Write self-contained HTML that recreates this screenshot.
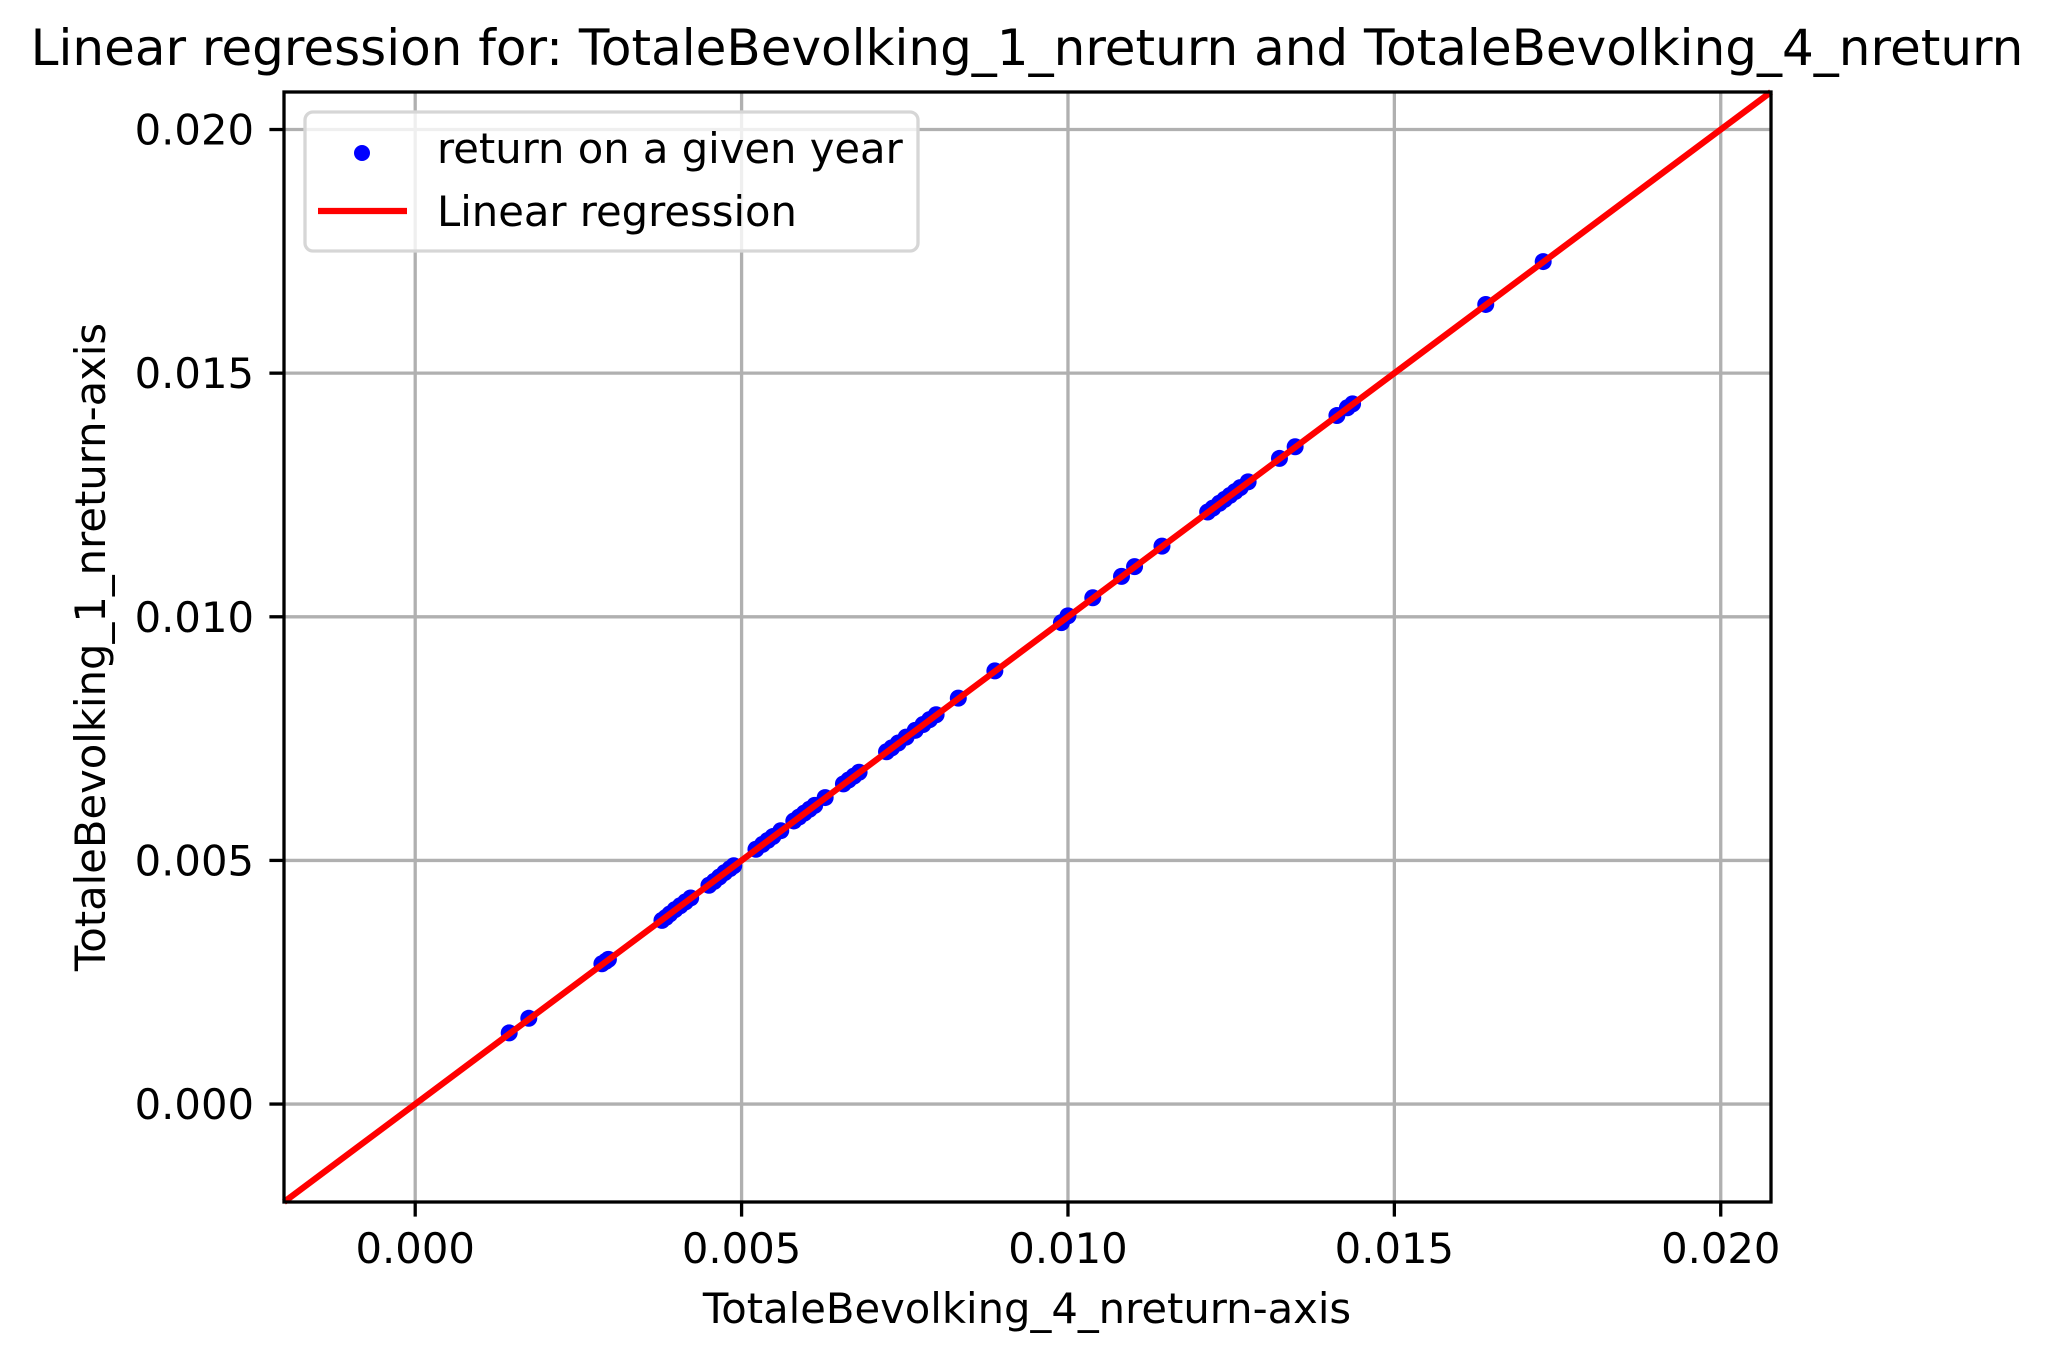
<!DOCTYPE html>
<html><head><meta charset="utf-8"><style>
html,body{margin:0;padding:0;background:#fff;}
svg{display:block;font-family:"DejaVu Sans","Liberation Sans",sans-serif;}
</style></head><body>
<svg id="chart" width="2054" height="1362" viewBox="0 0 2054 1362" xmlns="http://www.w3.org/2000/svg">
<rect width="2054" height="1362" fill="#fff"/>
<text x="1027" y="65" font-size="50" text-anchor="middle" fill="#000">Linear regression for: TotaleBevolking_1_nreturn and TotaleBevolking_4_nreturn</text>
<g id="grid"></g>
<g id="marks"></g>
<g id="axes"></g>
<text x="1027" y="1323" font-size="41.7" text-anchor="middle" fill="#000">TotaleBevolking_4_nreturn-axis</text>
<text transform="translate(105,647) rotate(-90)" font-size="41.7" text-anchor="middle" fill="#000">TotaleBevolking_1_nreturn-axis</text>
<g>
<rect x="305" y="112" width="613" height="139" rx="8" fill="#fff" fill-opacity="0.8" stroke="#d6d6d6" stroke-width="3.3"/>
<circle cx="362" cy="153" r="8" fill="#0000ff"/>
<text x="437" y="163" font-size="41.7" fill="#000">return on a given year</text>
<line x1="318" y1="211" x2="407" y2="211" stroke="#ff0000" stroke-width="6.25"/>
<text x="437" y="226" font-size="41.7" fill="#000">Linear regression</text>
</g>
</svg>
<script>
const xValues = [0.00144,0.00174,0.00286,0.00292,0.00296,0.00378,0.00384,0.00390,0.00398,0.00406,0.00414,0.00422,0.00450,0.00458,0.00466,0.00474,0.00482,0.00488,0.00522,0.00532,0.00540,0.00548,0.00560,0.00580,0.00588,0.00596,0.00604,0.00612,0.00628,0.00656,0.00664,0.00672,0.00680,0.00722,0.00730,0.00740,0.00752,0.00766,0.00778,0.00788,0.00798,0.00832,0.00888,0.00990,0.01000,0.01038,0.01082,0.01102,0.01144,0.01214,0.01222,0.01232,0.01240,0.01248,0.01256,0.01264,0.01276,0.01324,0.01348,0.01412,0.01428,0.01436,0.01640,0.01728];
const yValues = [0.00146,0.00176,0.00288,0.00293,0.00297,0.00377,0.00383,0.00390,0.00399,0.00407,0.00415,0.00423,0.00449,0.00457,0.00466,0.00475,0.00483,0.00489,0.00523,0.00533,0.00541,0.00549,0.00561,0.00581,0.00589,0.00597,0.00605,0.00613,0.00629,0.00657,0.00665,0.00673,0.00681,0.00723,0.00731,0.00741,0.00753,0.00767,0.00779,0.00789,0.00799,0.00833,0.00889,0.00988,0.01002,0.01039,0.01083,0.01103,0.01145,0.01215,0.01223,0.01233,0.01241,0.01249,0.01257,0.01265,0.01277,0.01325,0.01349,0.01413,0.01429,0.01437,0.01641,0.01729];
const xTicks = [0.000,0.005,0.010,0.015,0.020];
const yTicks = [0.000,0.005,0.010,0.015,0.020];
const tickLabels = ["0.000","0.005","0.010","0.015","0.020"];
const regSlope = [1.0];
const regIntercept = [0.0];
const xDomain = [-0.00201,0.02077];
const yDomain = [-0.00201,0.02077];

const L=284,R=1771,T=92,B=1202;
const NS="http://www.w3.org/2000/svg";
function sx(v){return L+(v-xDomain[0])/(xDomain[1]-xDomain[0])*(R-L);}
function sy(v){return B-(v-yDomain[0])/(yDomain[1]-yDomain[0])*(B-T);}
function mk(tag,attrs,parent){const e=document.createElementNS(NS,tag);for(const k in attrs)e.setAttribute(k,attrs[k]);parent.appendChild(e);return e;}
const grid=document.getElementById('grid'),marks=document.getElementById('marks'),axes=document.getElementById('axes');
xTicks.forEach((t,i)=>{
  const x=sx(t);
  const g=mk('line',{x1:x,y1:T,x2:x,y2:B,stroke:'#b0b0b0','stroke-width':3.3},grid);
  
  
  const tk=mk('line',{x1:x,y1:B,x2:x,y2:B+14.6,stroke:'#000','stroke-width':3.3},axes);
  
  
  const tl=mk('text',{x:x,y:1263,'font-size':41.7,'text-anchor':'middle',fill:'#000'},axes);
  tl.textContent=tickLabels[i];
  
  
});
yTicks.forEach((t,i)=>{
  const y=sy(t);
  const g=mk('line',{x1:L,y1:y,x2:R,y2:y,stroke:'#b0b0b0','stroke-width':3.3},grid);
  
  
  const tk=mk('line',{x1:L-14.6,y1:y,x2:L,y2:y,stroke:'#000','stroke-width':3.3},axes);
  
  
  const tl=mk('text',{x:254,y:y+15,'font-size':41.7,'text-anchor':'end',fill:'#000'},axes);
  tl.textContent=tickLabels[i];
  
  
});
xValues.forEach((xv,i)=>{
  const c=mk('circle',{cx:sx(xv),cy:sy(yValues[i]),r:8.5,fill:'#0000ff'},marks);
  
  
});
const x0=xDomain[0],x1=xDomain[1];
const rl=mk('line',{x1:sx(x0),y1:sy(regSlope[0]*x0+regIntercept[0]),x2:sx(x1),y2:sy(regSlope[0]*x1+regIntercept[0]),stroke:'#ff0000','stroke-width':6.25,'clip-path':'url(#clip)'},marks);


const sp=mk('rect',{x:L,y:T,width:R-L,height:B-T,fill:'none',stroke:'#000','stroke-width':3.3},axes);


</script>
</body></html>
